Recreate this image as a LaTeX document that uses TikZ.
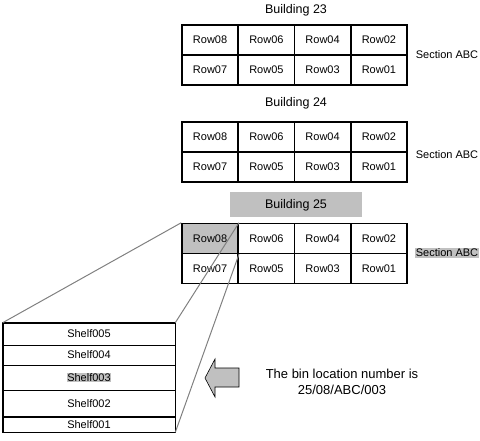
\documentclass[tikz,border=0pt]{standalone}
\usepackage{fontspec}
\setmainfont{Liberation Sans}
\usepackage{tikz}
\usetikzlibrary{positioning}
\definecolor{hilite}{HTML}{C0C0C0}
\definecolor{zoomgray}{HTML}{808080}
\setlength{\fboxsep}{0.5pt}

\begin{document}
\begin{tikzpicture}[x=1pt,y=-1pt,
    cell/.style={rectangle, draw=black, line width=1.5pt,
        minimum width=56.25pt, minimum height=30pt, inner sep=0pt,
        font=\fontsize{11}{13}\selectfont},
    title/.style={font=\fontsize{12.5}{15}\selectfont},
    section/.style={inner sep=1pt, font=\fontsize{11}{13}\selectfont},
    shelfrow/.style={rectangle, draw=black, line width=0.6pt,
        minimum width=172pt, inner sep=0pt,
        font=\fontsize{11}{13}\selectfont},
    zoomline/.style={draw=zoomgray, line width=1pt}]
\useasboundingbox (0,0) rectangle (480,441);

% Building 23
\node[title] (t23) at (296,10) {Building 23};
\node[cell] (b23r08) at (210.1,40) {Row08};
\node[cell] (b23r06) at (266.4,40) {Row06};
\node[cell] (b23r04) at (322.6,40) {Row04};
\node[cell] (b23r02) at (378.9,40) {Row02};
\node[cell] (b23r07) at (210.1,70) {Row07};
\node[cell] (b23r05) at (266.4,70) {Row05};
\node[cell] (b23r03) at (322.6,70) {Row03};
\node[cell] (b23r01) at (378.9,70) {Row01};
\node[section] (sec23) at (447,55) {Section ABC};

% Building 24
\node[title] (t24) at (296,103) {Building 24};
\node[cell] (b24r08) at (210.1,137) {Row08};
\node[cell] (b24r06) at (266.4,137) {Row06};
\node[cell] (b24r04) at (322.6,137) {Row04};
\node[cell] (b24r02) at (378.9,137) {Row02};
\node[cell] (b24r07) at (210.1,167) {Row07};
\node[cell] (b24r05) at (266.4,167) {Row05};
\node[cell] (b24r03) at (322.6,167) {Row03};
\node[cell] (b24r01) at (378.9,167) {Row01};
\node[section] (sec24) at (447,155) {Section ABC};

% Building 25
\node[title, fill=hilite, minimum width=132pt, minimum height=25pt] (t25) at (296,205) {Building 25};
\node[cell, fill=hilite] (b25r08) at (210.1,238.5) {Row08};
\node[cell] (b25r06) at (266.4,238.5) {Row06};
\node[cell] (b25r04) at (322.6,238.5) {Row04};
\node[cell] (b25r02) at (378.9,238.5) {Row02};
\node[cell] (b25r07) at (210.1,268.5) {Row07};
\node[cell] (b25r05) at (266.4,268.5) {Row05};
\node[cell] (b25r03) at (322.6,268.5) {Row03};
\node[cell] (b25r01) at (378.9,268.5) {Row01};
\node[section, fill=hilite] (sec25) at (447,253) {Section ABC};

% shelves of row 08
\node[shelfrow, minimum height=22pt] (s5) at (89,334) {Shelf005};
\node[shelfrow, minimum height=20pt] (s4) at (89,355) {Shelf004};
\node[shelfrow, minimum height=25pt] (s3) at (89,377.5) {\colorbox{hilite}{Shelf003}};
\node[shelfrow, minimum height=27pt] (s2) at (89,403.5) {Shelf002};
\node[shelfrow, minimum height=15pt] (s1) at (89,424.5) {Shelf001};
\draw[line width=1.5pt] (s5.north west) rectangle (s1.south east);
\draw[line width=1.5pt] (s1.north west) -- (s1.north east);

\draw[zoomline] (b25r08.north west) -- (s5.north west);
\draw[zoomline] (b25r08.north east) -- (s5.north east);
\draw[zoomline] (b25r08.south east) -- (s1.south east);

% pointer and note
\draw[fill=hilite, line width=0.6pt] (205,378) -- (215,359) -- (215,368) -- (239,368)
    -- (239,387) -- (215,387) -- (215,397) -- cycle;
\node[align=center, font=\fontsize{13}{16}\selectfont] (note) at (342,382)
    {The bin location number is\\25/08/ABC/003};

\end{tikzpicture}
\end{document}
